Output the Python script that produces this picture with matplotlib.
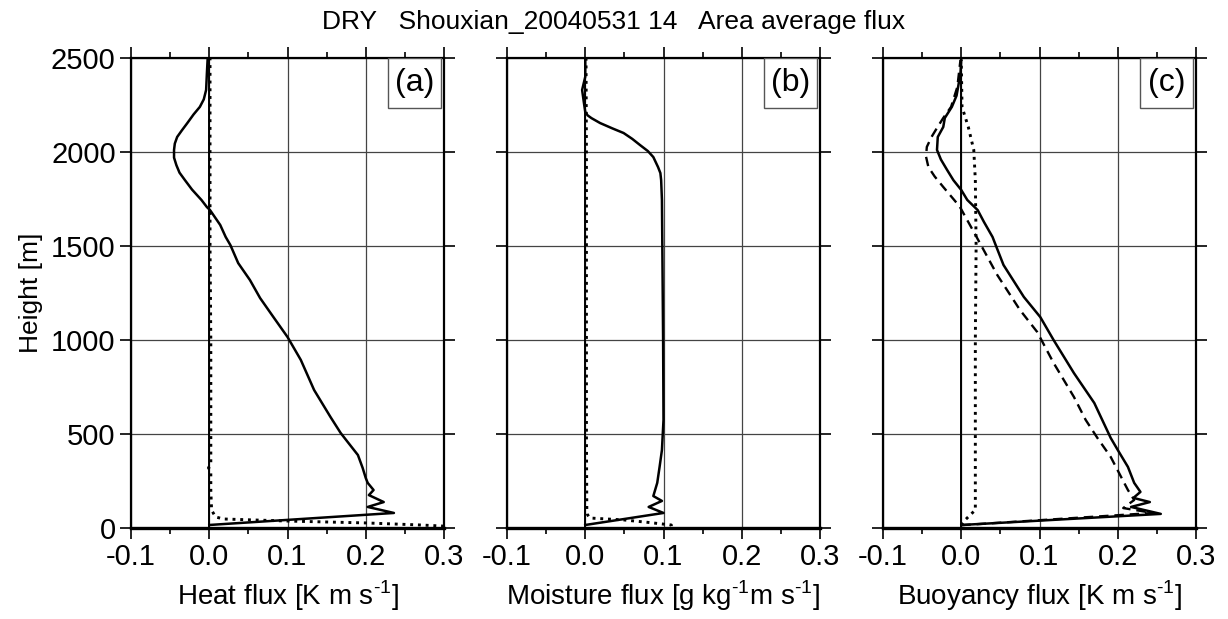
import numpy as np
import matplotlib
matplotlib.use('Agg')
import matplotlib.pyplot as plt
from matplotlib.patches import Rectangle

plt.rcParams['font.family'] = ['Liberation Sans', 'DejaVu Sans']
plt.rcParams['mathtext.fontset'] = 'custom'
plt.rcParams['mathtext.rm'] = 'Liberation Sans'
plt.rcParams['axes.unicode_minus'] = False

# (a) heat flux
heat_z = [16, 80, 112, 138, 175, 202, 240, 266, 320, 388, 457, 505, 590, 734, 894, 1016,
          1122, 1223, 1319, 1409, 1505, 1548, 1612, 1691, 1707, 1745, 1800, 1850, 1890, 1930,
          1970, 2011, 2045, 2080, 2115, 2154, 2200, 2240, 2280, 2330, 2420, 2500]
heat_v = [0.0, 0.236, 0.2025, 0.223, 0.204, 0.21, 0.2025, 0.2, 0.196, 0.19, 0.177, 0.168, 0.155,
          0.134, 0.117, 0.1, 0.082, 0.065, 0.052, 0.037, 0.027, 0.021, 0.014, 0.001, -0.003,
          -0.01, -0.022, -0.031, -0.038, -0.042, -0.045, -0.045, -0.044, -0.041, -0.035,
          -0.028, -0.02, -0.012, -0.007, -0.004, -0.003, -0.002]
heat_dot_z = [10, 16, 27, 37, 48, 59, 95, 200, 300, 320, 340, 500, 1000, 1500, 2000, 2500]
heat_dot_v = [0.30, 0.27, 0.2, 0.1, 0.018, 0.008, 0.003, 0.002, 0.002, -0.001, 0.002, 0.002,
              0.002, 0.001, 0.001, 0.001]

# (b) moisture flux
moist_z = [16, 80, 112, 144, 170, 240, 325, 415, 575, 1000, 1500, 1745, 1850, 1888, 1920, 1973,
           2005, 2037, 2070, 2101, 2125, 2154, 2180, 2195, 2213, 2270, 2330, 2400, 2500]
moist_v = [0.0, 0.1, 0.081, 0.098, 0.087, 0.092, 0.095, 0.098, 0.1, 0.0995, 0.0985, 0.098, 0.097,
           0.096, 0.093, 0.087, 0.08, 0.07, 0.06, 0.049, 0.035, 0.019, 0.008, 0.003, 0.0,
           -0.002, -0.004, 0.0, 0.0]
moist_dot_z = [10, 16, 30, 43, 53, 70, 100, 500, 1000, 1500, 2000, 2500]
moist_dot_v = [0.11, 0.11, 0.08, 0.049, 0.006, 0.003, 0.002, 0.0015, 0.0015, 0.0015, 0.0015, 0.001]

# (c) buoyancy flux
buoy_z = [16, 75, 112, 138, 160, 192, 240, 325, 415, 479, 665, 824, 1000, 1122, 1229, 1399, 1505,
          1548, 1628, 1691, 1745, 1798, 1850, 1904, 1960, 2011, 2080, 2133, 2181, 2240, 2300,
          2346, 2420, 2490]
buoy_v = [0.0, 0.255, 0.217, 0.241, 0.22, 0.229, 0.221, 0.213, 0.2, 0.191, 0.170, 0.144, 0.118,
          0.101, 0.080, 0.054, 0.044, 0.04, 0.029, 0.021, 0.0077, 0.0, -0.01, -0.018, -0.026,
          -0.031, -0.03, -0.023, -0.021, -0.012, -0.006, -0.004, -0.001, 0.0]
buoy_dash_z = [15, 80, 106, 149, 202, 378, 479, 575, 697, 878, 1043, 1160, 1346, 1560, 1710,
               1814, 1870, 1920, 1975, 2027, 2080, 2128, 2181, 2240, 2346, 2490]
buoy_dash_v = [0.0, 0.245, 0.207, 0.221, 0.213, 0.191, 0.174, 0.159, 0.144, 0.118, 0.097, 0.075,
               0.046, 0.018, -0.002, -0.023, -0.034, -0.042, -0.045, -0.044, -0.038, -0.031,
               -0.023, -0.013, -0.005, -0.001]
buoy_dot_z = [15, 43, 96, 500, 1000, 1500, 1851, 2011, 2133, 2240, 2490]
buoy_dot_v = [0.0, 0.005, 0.018, 0.018, 0.018, 0.019, 0.018, 0.016, 0.009, 0.001, 0.0]

xticks = [-0.1, 0.0, 0.1, 0.2, 0.3]
xticklabels = ['-0.1', '0.0', '0.1', '0.2', '0.3']
yticks = [0, 500, 1000, 1500, 2000, 2500]
panel_tags = ['(a)', '(b)', '(c)']
xlabels = [r'Heat flux [K m s$^{\text{-1}}$]',
           r'Moisture flux [g kg$^{\text{-1}}$m s$^{\text{-1}}$]',
           r'Buoyancy flux [K m s$^{\text{-1}}$]']

fig = plt.figure(figsize=(12.28, 6.19), dpi=100)
lefts = [131 / 1228, 507 / 1228, 883 / 1228]
axes = [fig.add_axes([l, 91 / 619, 313 / 1228, 470 / 619]) for l in lefts]

lw = 1.8
dot_lw = 2.1
axes[0].plot(heat_v, heat_z, color='k', lw=lw, zorder=4)
axes[0].plot(heat_dot_v, heat_dot_z, color='k', lw=dot_lw, ls=':', zorder=4)
axes[1].plot(moist_v, moist_z, color='k', lw=lw, zorder=4)
axes[1].plot(moist_dot_v, moist_dot_z, color='k', lw=dot_lw, ls=':', zorder=4)
axes[2].plot(buoy_v, buoy_z, color='k', lw=lw, zorder=4)
axes[2].plot(buoy_dash_v, buoy_dash_z, color='k', lw=1.7, dashes=(4, 2.5), zorder=4)
axes[2].plot(buoy_dot_v, buoy_dot_z, color='k', lw=dot_lw, ls=':', zorder=4)

for i, ax in enumerate(axes):
    ax.set_xlim(-0.1, 0.3)
    ax.set_ylim(0, 2500)
    ax.set_xticks(xticks)
    ax.set_xticklabels(xticklabels)
    ax.set_xticks([-0.05, 0.05, 0.15, 0.25], minor=True)
    ax.set_yticks(yticks)
    ax.grid(True, which='major', color='#444444', lw=0.9, zorder=1)
    ax.axvline(0, color='k', lw=1.4, zorder=2)
    ax.tick_params(which='major', direction='out', length=8, width=1.2, labelsize=21,
                   top=True, right=True, pad=3)
    ax.tick_params(which='minor', direction='out', length=4.5, width=1.2, top=True, bottom=True)
    for s in ax.spines.values():
        s.set_linewidth(1.6)
    ax.spines['bottom'].set_linewidth(2.4)
    ax.set_xlabel(xlabels[i], fontsize=20, labelpad=5)
    if i > 0:
        ax.set_yticklabels([])
    ax.add_patch(Rectangle((0.821, 0.894), 0.169, 0.106, transform=ax.transAxes,
                           facecolor='white', edgecolor='#555555', lw=1, zorder=5))
    ax.text(0.905, 0.947, panel_tags[i], transform=ax.transAxes, fontsize=23,
            ha='center', va='center', zorder=6)

axes[0].set_ylabel('Height [m]', fontsize=19, labelpad=6)
fig.text(0.5, 1 - 22 / 619, 'DRY   Shouxian_20040531 14   Area average flux',
         fontsize=19, ha='center', va='center')

fig.savefig('out.png', dpi=100)
